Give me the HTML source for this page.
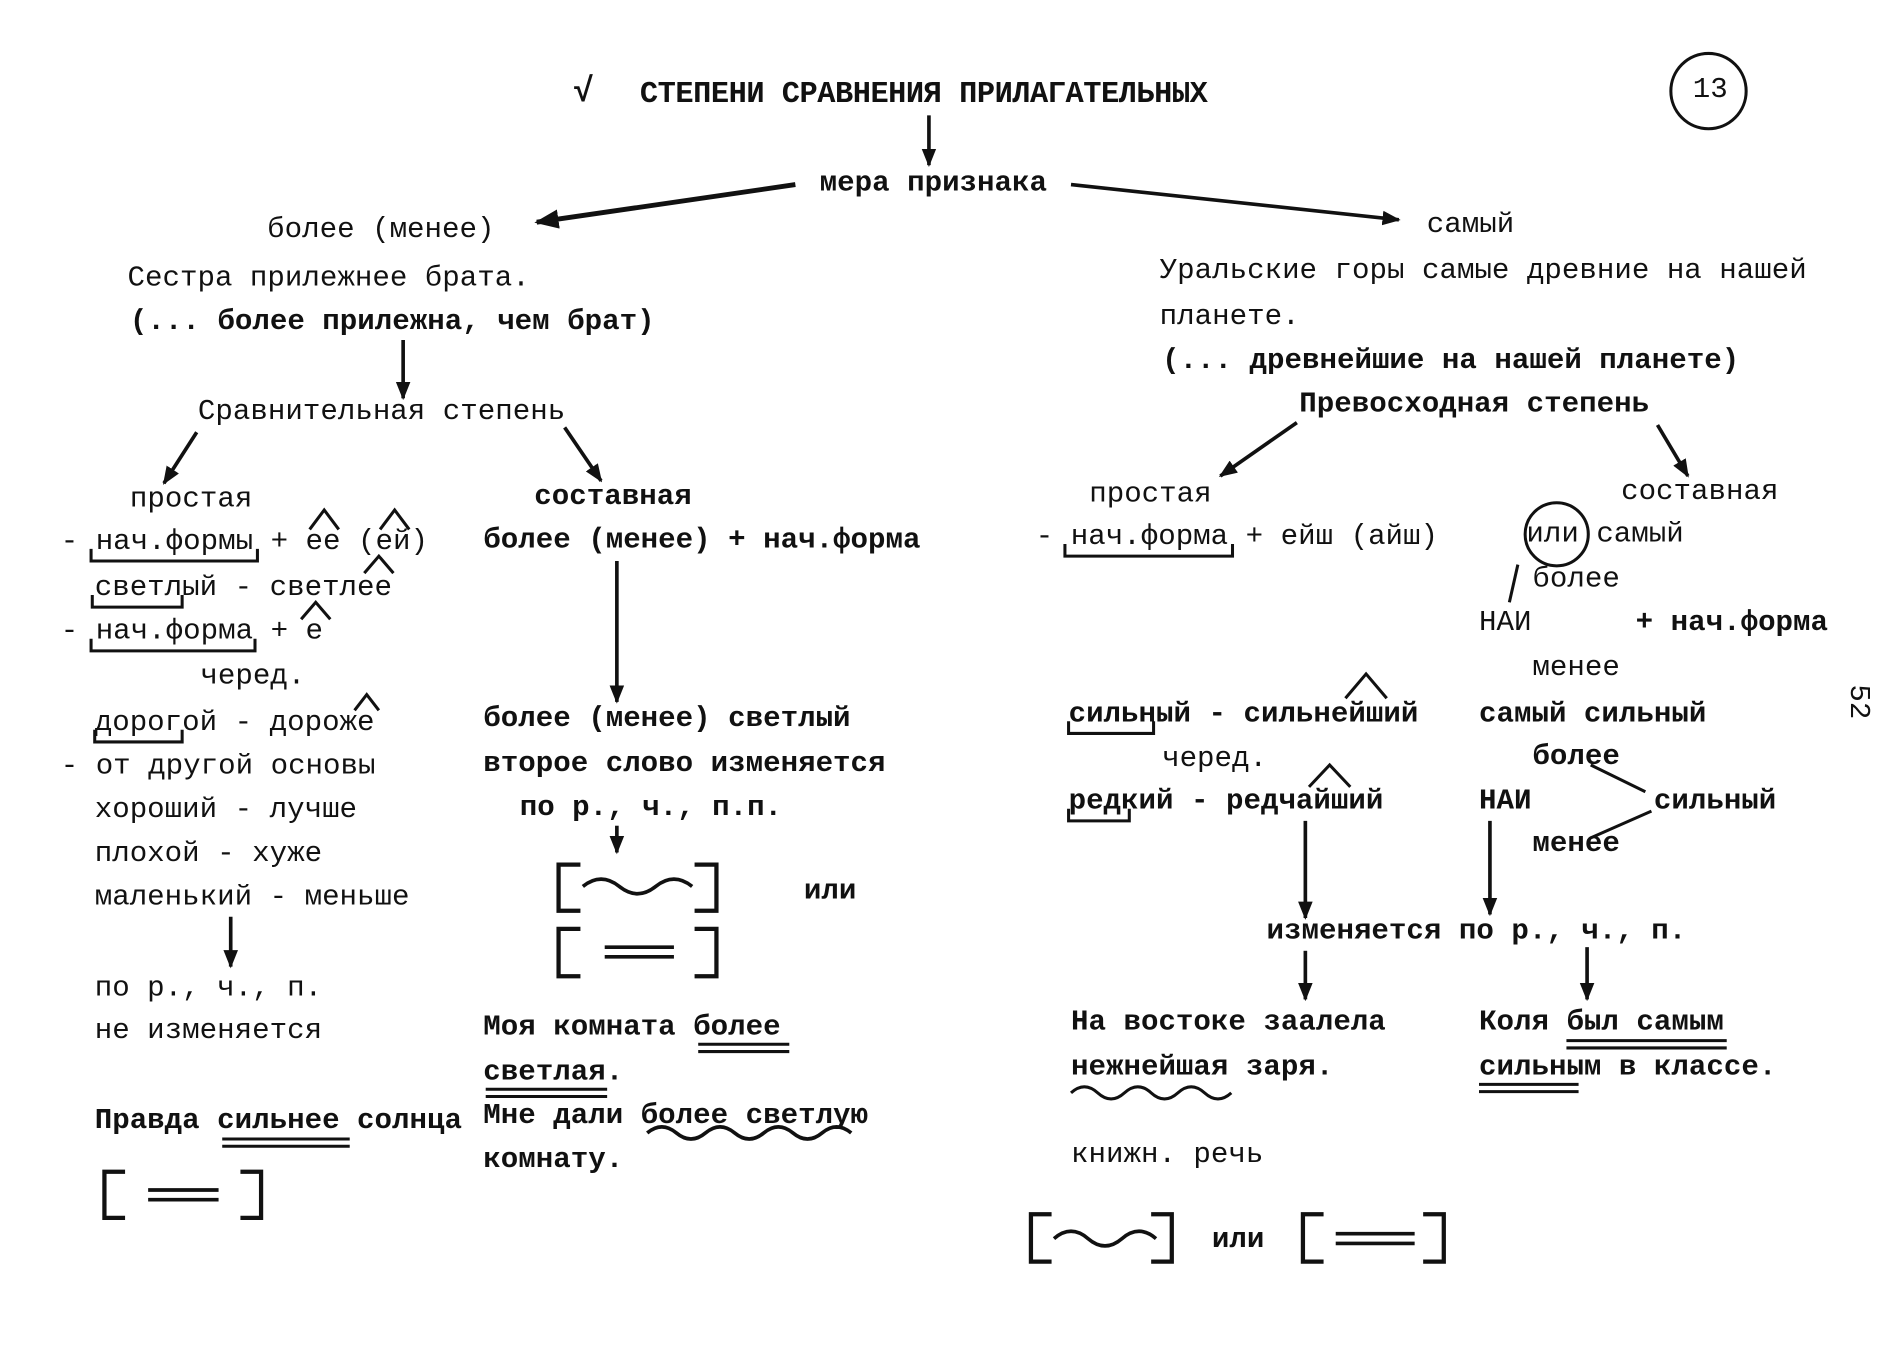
<!DOCTYPE html>
<html><head><meta charset="utf-8">
<style>
html,body{margin:0;padding:0;background:#fff;}
body{width:1904px;height:1360px;overflow:hidden;position:relative;}
#c{position:absolute;left:0;top:0;width:1568px;height:1120px;transform:scale(1.21429);transform-origin:0 0;}
.t{position:absolute;white-space:pre;font-family:"Liberation Mono","DejaVu Sans Mono",monospace;font-size:24px;line-height:30px;color:#111;font-weight:bold;letter-spacing:0px;}
.n{font-weight:normal;}
svg{position:absolute;left:0;top:0;}
</style></head><body><div id="c">
<svg width="1568" height="1120" viewBox="0 0 1568 1120">
<defs><marker id="a" viewBox="0 0 10 10" refX="9" refY="5" markerWidth="5" markerHeight="5" orient="auto"><path d="M0,1 L10,5 L0,9 z" fill="#111"/></marker></defs>
<g stroke="#111" stroke-width="3" fill="none" marker-end="url(#a)">
<line x1="765" y1="95" x2="765" y2="136"/>
<line x1="655" y1="152" x2="442" y2="183" stroke-width="4"/>
<line x1="882" y1="152" x2="1152" y2="181"/>
<line x1="332" y1="280" x2="332" y2="328"/>
<line x1="162" y1="356" x2="135" y2="398"/>
<line x1="465" y1="352" x2="495" y2="396"/>
<line x1="190" y1="755" x2="190" y2="796"/>
<line x1="508" y1="462" x2="508" y2="578"/>
<line x1="508" y1="680" x2="508" y2="702"/>
<line x1="1068" y1="348" x2="1005" y2="392"/>
<line x1="1365" y1="350" x2="1390" y2="392"/>
<line x1="1075" y1="676" x2="1075" y2="756"/>
<line x1="1227" y1="676" x2="1227" y2="753"/>
<line x1="1075" y1="783" x2="1075" y2="823"/>
<line x1="1307" y1="780" x2="1307" y2="823"/>
</g>
<g stroke="#111" stroke-width="2.5" fill="none">
<circle cx="1407" cy="75" r="31"/>
<circle cx="1282" cy="440" r="26"/>
<line x1="1250" y1="465" x2="1243" y2="496"/>
<line x1="1310" y1="630" x2="1355" y2="652"/>
<line x1="1310" y1="690" x2="1360" y2="668"/>
<path d="M75,452 V462 H212 V452"/>
<path d="M76,490 V500 H150 V490"/>
<path d="M75,526 V536 H210 V526"/>
<path d="M78,601 V611 H150 V601"/>
<path d="M877,448 V458 H1015 V448"/>
<path d="M880,594 V604 H950 V594"/>
<path d="M880,666 V676 H930 V666"/>
<path d="M255,436 L267,420 L279,436"/><path d="M313,436 L325,420 L337,436"/>
<path d="M300,472 L312,458 L324,472"/><path d="M248,510 L260,496 L272,510"/>
<path d="M292,585 L302,572 L312,585"/>
<path d="M1108,575 L1125,555 L1142,575"/><path d="M1078,648 L1095,630 L1112,648"/>
<path d="M183,938 H288 M183,944 H288"/>
<path d="M575,860 H650 M575,866 H650"/>
<path d="M400,897 H500 M400,903 H500"/>
<path d="M1290,857 H1422 M1290,863 H1422"/>
<path d="M1218,893 H1300 M1218,899 H1300"/>
<path d="M533,933 q12,-10 24,0 t24,0 t24,0 t24,0 t24,0 t24,0 t24,0" stroke-width="3"/>
<path d="M882,900 q11,-10 22,0 t22,0 t22,0 t22,0 t22,0 t22,0"/>
<path d="M478,712 H460 V750 H478 M572,712 H590 V750 H572" stroke-width="3.5"/>
<path d="M480,730 q15,-12 30,0 t30,0 t30,0" stroke-width="3"/>
<path d="M478,765 H460 V804 H478 M572,765 H590 V804 H572" stroke-width="3.5"/>
<path d="M498,780 H555 M498,788 H555" stroke-width="3"/>
<path d="M103,965 H86 V1003 H103 M198,965 H215 V1003 H198" stroke-width="3.5"/>
<path d="M122,980 H180 M122,988 H180" stroke-width="3"/>
<path d="M866,1000 H849 V1039 H866 M948,1000 H965 V1039 H948" stroke-width="3.5"/>
<path d="M868,1020 q14,-12 28,0 t28,0 t28,0" stroke-width="3"/>
<path d="M1090,1000 H1073 V1039 H1090 M1172,1000 H1189 V1039 H1172" stroke-width="3.5"/>
<path d="M1100,1016 H1165 M1100,1024 H1165" stroke-width="3"/>
</g>
</svg>
<div class="t" style="left:472px;top:62px;font-size:28px">√</div>
<div class="t" style="left:527px;top:63px;font-size:25px;letter-spacing:-0.4px">СТЕПЕНИ СРАВНЕНИЯ ПРИЛАГАТЕЛЬНЫХ</div>
<div class="t n" style="left:1394px;top:60px">13</div>
<div class="t" style="left:675px;top:137px">мера признака</div>
<div class="t n" style="left:220px;top:175px">более (менее)</div>
<div class="t n" style="left:1175px;top:171px">самый</div>
<div class="t n" style="left:105px;top:215px">Сестра прилежнее брата.</div>
<div class="t" style="left:107px;top:251px">(... более прилежна, чем брат)</div>
<div class="t n" style="left:163px;top:325px">Сравнительная степень</div>
<div class="t n" style="left:107px;top:397px">простая</div>
<div class="t" style="left:440px;top:395px">составная</div>
<div class="t n" style="left:50px;top:432px">- нач.формы + ее (ей)</div>
<div class="t n" style="left:78px;top:470px">светлый - светлее</div>
<div class="t n" style="left:50px;top:506px">- нач.форма + е</div>
<div class="t n" style="left:165px;top:543px">черед.</div>
<div class="t n" style="left:78px;top:581px">дорогой - дороже</div>
<div class="t n" style="left:50px;top:617px">- от другой основы</div>
<div class="t n" style="left:78px;top:653px">хороший - лучше</div>
<div class="t n" style="left:78px;top:689px">плохой - хуже</div>
<div class="t n" style="left:78px;top:725px">маленький - меньше</div>
<div class="t n" style="left:78px;top:800px">по р., ч., п.</div>
<div class="t n" style="left:78px;top:835px">не изменяется</div>
<div class="t" style="left:78px;top:909px">Правда сильнее солнца</div>
<div class="t" style="left:398px;top:431px">более (менее) + нач.форма</div>
<div class="t" style="left:398px;top:578px">более (менее) светлый</div>
<div class="t" style="left:398px;top:615px">второе слово изменяется</div>
<div class="t" style="left:428px;top:651px">по р., ч., п.п.</div>
<div class="t" style="left:662px;top:720px">или</div>
<div class="t" style="left:398px;top:832px">Моя комната более</div>
<div class="t" style="left:398px;top:869px">светлая.</div>
<div class="t" style="left:398px;top:905px">Мне дали более светлую</div>
<div class="t" style="left:398px;top:941px">комнату.</div>
<div class="t n" style="left:955px;top:209px">Уральские горы самые древние на нашей</div>
<div class="t n" style="left:955px;top:247px">планете.</div>
<div class="t" style="left:957px;top:283px">(... древнейшие на нашей планете)</div>
<div class="t" style="left:1070px;top:319px">Превосходная степень</div>
<div class="t n" style="left:897px;top:393px">простая</div>
<div class="t n" style="left:1335px;top:391px">составная</div>
<div class="t n" style="left:853px;top:428px">- нач.форма + ейш (айш)</div>
<div class="t n" style="left:1257px;top:426px">или самый</div>
<div class="t n" style="left:1262px;top:463px">более</div>
<div class="t n" style="left:1218px;top:499px">НАИ</div>
<div class="t" style="left:1347px;top:499px">+ нач.форма</div>
<div class="t n" style="left:1262px;top:536px">менее</div>
<div class="t" style="left:880px;top:574px">сильный - сильнейший</div>
<div class="t" style="left:1218px;top:574px">самый сильный</div>
<div class="t n" style="left:957px;top:611px">черед.</div>
<div class="t" style="left:1262px;top:609px">более</div>
<div class="t" style="left:880px;top:646px">редкий - редчайший</div>
<div class="t" style="left:1218px;top:646px">НАИ</div>
<div class="t" style="left:1362px;top:646px">сильный</div>
<div class="t" style="left:1262px;top:681px">менее</div>
<div class="t" style="left:1043px;top:753px">изменяется по р., ч., п.</div>
<div class="t" style="left:882px;top:828px">На востоке заалела</div>
<div class="t" style="left:882px;top:865px">нежнейшая заря.</div>
<div class="t" style="left:1218px;top:828px">Коля был самым</div>
<div class="t" style="left:1218px;top:865px">сильным в классе.</div>
<div class="t n" style="left:882px;top:937px">книжн. речь</div>
<div class="t" style="left:998px;top:1007px">или</div>
<div class="t n" style="left:1515px;top:563px;transform:rotate(90deg)">52</div>
</div></body></html>
